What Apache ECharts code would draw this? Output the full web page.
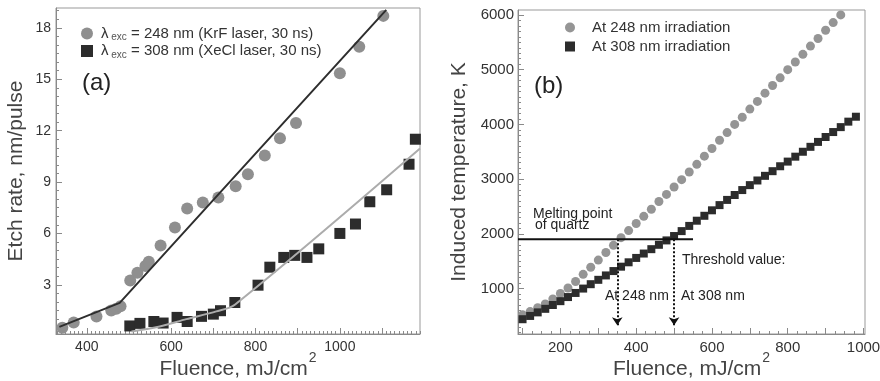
<!DOCTYPE html>
<html><head><meta charset="utf-8">
<script src="https://cdn.jsdelivr.net/npm/echarts@6/dist/echarts.min.js"></script>
<style>html,body{margin:0;padding:0;background:#fff}#c{width:880px;height:381px}</style>
</head><body><div id="c"></div>
<script>
// ---------- Panel (a): etch rate vs fluence ----------
const aEtch248 = [[342,0.5],[369,0.8],[423,1.15],[458,1.5],[470,1.6],[480,1.75],[503,3.25],[520,3.7],[539,4.1],[547,4.35],[575,5.3],[609,6.35],[638,7.45],[675,7.8],[712,8.1],[753,8.75],[782,9.45],[822,10.55],[858,11.55],[896,12.45],[1000,15.35],[1046,16.9],[1103,18.7]];
const aEtch308 = [[502,0.6],[526,0.75],[559,0.86],[581,0.77],[614,1.1],[638,0.86],[672,1.16],[700,1.29],[717,1.49],[751,1.97],[806,2.98],[834,4.03],[867,4.6],[893,4.72],[922,4.6],[950,5.1],[1000,6.0],[1037,6.55],[1071,7.85],[1111,8.55],[1164,10.04],[1179,11.5]];
const aFit248 = [[335,0.55],[478,1.95],[1110,19.05]];
const aFit308 = [[506,0.28],[573,0.57],[636,1.0],[707,1.45],[751,1.84],[1190,10.96]];
const aXLabels = [400,600,800,1000];
const aYLabels = [3,6,9,12,15,18];

// ---------- Panel (b): induced temperature vs fluence ----------
const bFluence248 = [100,120,140,160,180,200,220,240,260,280,300,320,340,360,380,400,420,440,460,480,500,520,540,560,580,600,620,640,660,680,700,720,740,760,780,800,820,840,860,880,900,920,940];
const bTemp248 = [520,580,650,720,810,910,1010,1130,1260,1390,1520,1660,1790,1930,2060,2190,2320,2450,2590,2720,2855,2990,3130,3270,3420,3560,3710,3850,4000,4130,4280,4420,4570,4710,4850,5000,5140,5280,5430,5570,5720,5860,6000];
const bFluence308 = [100,120,140,160,180,200,220,240,260,280,300,320,340,360,380,400,420,440,460,480,500,520,540,560,580,600,620,640,660,680,700,720,740,760,780,800,820,840,860,880,900,920,940,960,980];
const bTemp308 = [440,500,565,630,700,770,845,920,1000,1080,1160,1240,1320,1400,1480,1560,1640,1720,1800,1880,1960,2050,2145,2240,2330,2430,2525,2620,2710,2800,2890,2975,3060,3145,3235,3320,3410,3500,3590,3680,3770,3860,3950,4050,4140];
const bMelting = [[88,1900],[550,1900]];
const bThresholds = [350,500];
const bXLabels = [200,400,600,800,1000];
const bYLabels = [1000,2000,3000,4000,5000,6000];

const FONT = "'Liberation Sans', Arial, Helvetica, sans-serif";
function range(a,b,s){const r=[];for(let v=a;v<=b+1e-9;v+=s)r.push(+v.toFixed(4));return r;}

const chart = echarts.init(document.getElementById('c'), null, {renderer:'canvas'});
const axisCol = '#8a8a8a';
const lblStyle = (vals,size,m)=>({customValues:vals,fontSize:size,color:'#333',fontFamily:FONT,margin:m,formatter:v=>String(v)});
const nameX = {fontSize:21,color:'#444',fontFamily:FONT,lineHeight:36,
  rich:{sup:{fontSize:14,color:'#444',fontFamily:FONT,verticalAlign:'top',lineHeight:14,padding:[0,0,0,1]}}};
const nameY = {fontSize:21,color:'#444',fontFamily:FONT};

function mainAxis(o){return Object.assign({type:'value',splitLine:{show:false},nameMoveOverlap:false,
  axisLine:{show:true,lineStyle:{color:axisCol,width:1}}},o);}
function minorAxis(o,vals,len){return Object.assign({type:'value',splitLine:{show:false},
  axisLine:{show:false},axisLabel:{show:false},
  axisTick:{show:true,inside:true,length:len,customValues:vals,lineStyle:{color:axisCol}}},o);}

const option = {
  animation:false,
  textStyle:{fontFamily:FONT},
  grid:[
    {left:56,top:8,width:364,height:326,show:true,borderColor:'#999',borderWidth:1,containLabel:false,outerBoundsMode:'none'},
    {left:518,top:10,width:347,height:324,show:true,borderColor:'#999',borderWidth:1,containLabel:false,outerBoundsMode:'none'}
  ],
  xAxis:[
    mainAxis({gridIndex:0,min:327,max:1190,position:'bottom',
      axisTick:{show:true,inside:true,length:6,customValues:range(400,1100,100),lineStyle:{color:axisCol}},
      axisLabel:lblStyle(aXLabels,14,6),
      name:'Fluence, mJ/cm{sup|2}',nameLocation:'middle',nameGap:17,nameTextStyle:nameX}),
    minorAxis({gridIndex:0,min:327,max:1190,position:'bottom'},range(330,1190,10),3),
    mainAxis({gridIndex:1,min:88,max:1004,position:'bottom',
      axisTick:{show:true,inside:true,length:6,customValues:range(100,1000,100),lineStyle:{color:axisCol}},
      axisLabel:lblStyle(bXLabels,15,6),
      name:'Fluence, mJ/cm{sup|2}',nameLocation:'middle',nameGap:17,nameTextStyle:nameX}),
    minorAxis({gridIndex:1,min:88,max:1004,position:'bottom'},range(100,1000,25),3)
  ],
  yAxis:[
    mainAxis({gridIndex:0,min:0.13,max:19.16,position:'left',
      axisTick:{show:true,inside:true,length:6,customValues:aYLabels,lineStyle:{color:axisCol}},
      axisLabel:lblStyle(aYLabels,14,5),
      name:'Etch rate, nm/pulse',nameLocation:'middle',nameGap:29,nameTextStyle:nameY}),
    minorAxis({gridIndex:0,min:0.13,max:19.16,position:'left'},range(0.5,19,0.5),3),
    mainAxis({gridIndex:1,min:170,max:6090,position:'left',
      axisTick:{show:true,inside:true,length:6,customValues:bYLabels,lineStyle:{color:axisCol}},
      axisLabel:lblStyle(bYLabels,15,4),
      name:'Induced temperature, K',nameLocation:'middle',nameGap:48,nameTextStyle:nameY}),
    minorAxis({gridIndex:1,min:170,max:6090,position:'left'},range(200,6000,100),3)
  ],
  legend:[
    {left:76,top:21,orient:'vertical',itemWidth:12,itemHeight:12,itemGap:1,selectedMode:false,
      data:[{name:'a248',icon:'circle'},{name:'a308',icon:'rect'}],
      formatter:n=> n==='a248' ? '{l|λ}{s| exc}{t| = 248 nm (KrF laser, 30 ns)}' : '{l|λ}{s| exc}{t| = 308 nm (XeCl laser, 30 ns)}',
      textStyle:{color:'#333',fontSize:15,fontFamily:FONT,padding:[0,0,0,3],
        rich:{l:{fontSize:15,color:'#333',fontFamily:FONT},
              s:{fontSize:10,color:'#555',fontFamily:FONT,padding:[8,0,0,0]},
              t:{fontSize:15,color:'#333',fontFamily:FONT}}}},
    {left:560,top:15,orient:'vertical',itemWidth:10,itemHeight:10,itemGap:4,selectedMode:false,
      data:[{name:'At 248 nm irradiation',icon:'circle'},{name:'At 308 nm irradiation',icon:'rect'}],
      textStyle:{color:'#333',fontSize:15,fontFamily:FONT,padding:[0,0,0,12]}}
  ],
  series:[
    {name:'a248',type:'scatter',xAxisIndex:0,yAxisIndex:0,symbol:'circle',symbolSize:12,
      itemStyle:{color:'#8f8f8f',opacity:1},data:aEtch248,z:2},
    {name:'a308',type:'scatter',xAxisIndex:0,yAxisIndex:0,symbol:'rect',symbolSize:11,
      itemStyle:{color:'#2c2c2c',opacity:1},data:aEtch308,z:2},
    {name:'fit248',type:'line',xAxisIndex:0,yAxisIndex:0,showSymbol:false,symbol:'none',
      lineStyle:{color:'#2e2e2e',width:2},data:aFit248,z:4,silent:true},
    {name:'fit308',type:'line',xAxisIndex:0,yAxisIndex:0,showSymbol:false,symbol:'none',smooth:0.3,
      lineStyle:{color:'#acacac',width:2},data:aFit308,z:4,silent:true},
    {name:'At 248 nm irradiation',type:'scatter',xAxisIndex:2,yAxisIndex:2,symbol:'circle',symbolSize:9,
      itemStyle:{color:'#959595',opacity:1},data:bFluence248.map((x,i)=>[x,bTemp248[i]]),z:2},
    {name:'At 308 nm irradiation',type:'scatter',xAxisIndex:2,yAxisIndex:2,symbol:'rect',symbolSize:8,
      itemStyle:{color:'#2c2c2c',opacity:1},data:bFluence308.map((x,i)=>[x,bTemp308[i]]),z:3},
    {name:'melting',type:'line',xAxisIndex:2,yAxisIndex:2,symbol:'none',
      lineStyle:{color:'#111',width:2},data:bMelting,z:4,silent:true,
      markLine:{silent:true,symbol:['none','arrow'],symbolSize:8,label:{show:false},
        lineStyle:{color:'#111',width:2,type:'dotted'},
        data:bThresholds.map(x=>[{coord:[x,bMelting[0][1]]},{coord:[x,330]}])}}
  ],
  graphic:[
    {type:'text',x:82,y:83,style:{text:'(a)',fontSize:24,fontFamily:FONT,fill:'#222',verticalAlign:'middle'}},
    {type:'text',x:534,y:86,style:{text:'(b)',fontSize:24,fontFamily:FONT,fill:'#222',verticalAlign:'middle'}},
    {type:'text',x:533,y:214,style:{text:'Melting point',fontSize:14,fontFamily:FONT,fill:'#222',verticalAlign:'middle'}},
    {type:'text',x:535,y:225,style:{text:'of quartz',fontSize:14,fontFamily:FONT,fill:'#222',verticalAlign:'middle'}},
    {type:'text',x:682,y:260,style:{text:'Threshold value:',fontSize:14,fontFamily:FONT,fill:'#222',verticalAlign:'middle'}},
    {type:'text',x:605,y:296,style:{text:'At 248 nm',fontSize:14,fontFamily:FONT,fill:'#222',verticalAlign:'middle'}},
    {type:'text',x:681,y:296,style:{text:'At 308 nm',fontSize:14,fontFamily:FONT,fill:'#222',verticalAlign:'middle'}}
  ]
};
chart.setOption(option);
</script></body></html>
